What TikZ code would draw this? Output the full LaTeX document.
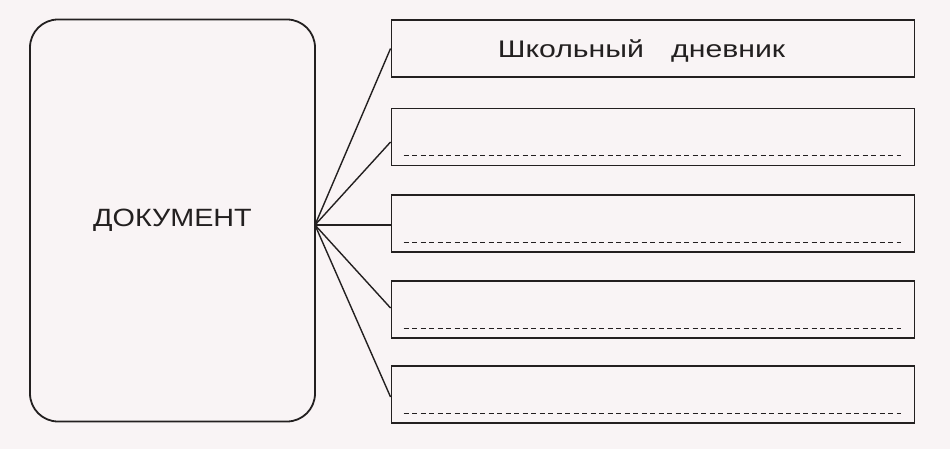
\documentclass[tikz,border=0pt]{standalone}
\usepackage{fontspec}
\setmainfont{Liberation Sans}
\definecolor{paper}{RGB}{249,244,245}
\definecolor{ink}{RGB}{35,32,32}
\begin{document}
\begin{tikzpicture}[x=1pt,y=-1pt,
  docbox/.style={draw=ink, line width=1.8pt, rounded corners=28pt, minimum width=285pt, minimum height=402pt, inner sep=0pt, text=ink, font=\fontsize{25}{28}\selectfont},
  slot/.style={draw=ink, line width=1.9pt, minimum width=523pt, minimum height=57pt, inner sep=0pt},
  slottext/.style={inner sep=0pt, text=ink, font=\fontsize{24}{28}\selectfont},
  conn/.style={draw=ink, line width=1.4pt},
  fill line/.style={draw=ink, line width=0.9pt, dash pattern=on 5pt off 3.5pt}]
\fill[paper] (0,0) rectangle (950,449);
\useasboundingbox (0,0) rectangle (950,449);
\node[docbox] (doc) at (172.5,220.5) {\scalebox{1.15}[1]{ДОКУМЕНТ}};
\node[slot] (b1) at (653,48.5) {};
\node[slottext] (t1) at (641.5,50.5) {\scalebox{1.26}[1]{Школьный\hspace{0.9em}дневник}};
\node[slot] (b2) at (653,137) {};
\node[slot] (b3) at (653,223.5) {};
\node[slot] (b4) at (653,309.5) {};
\node[slot] (b5) at (653,394.5) {};
\coordinate (hub) at (315,225);
\draw[conn] (hub) -- (b1.west);
\draw[conn] (hub) -- ([yshift=-5pt]b2.west);
\draw[conn] (hub) -- ([yshift=-1.5pt]b3.west);
\draw[conn] (hub) -- ([yshift=1.5pt]b4.west);
\draw[conn] (hub) -- ([yshift=-2.5pt]b5.west);
\foreach \b in {b2,b3,b4,b5}{
  \draw[fill line] ([xshift=13pt,yshift=11pt]\b.south west) -- ([xshift=-14pt,yshift=11pt]\b.south east);
}
\end{tikzpicture}
\end{document}
